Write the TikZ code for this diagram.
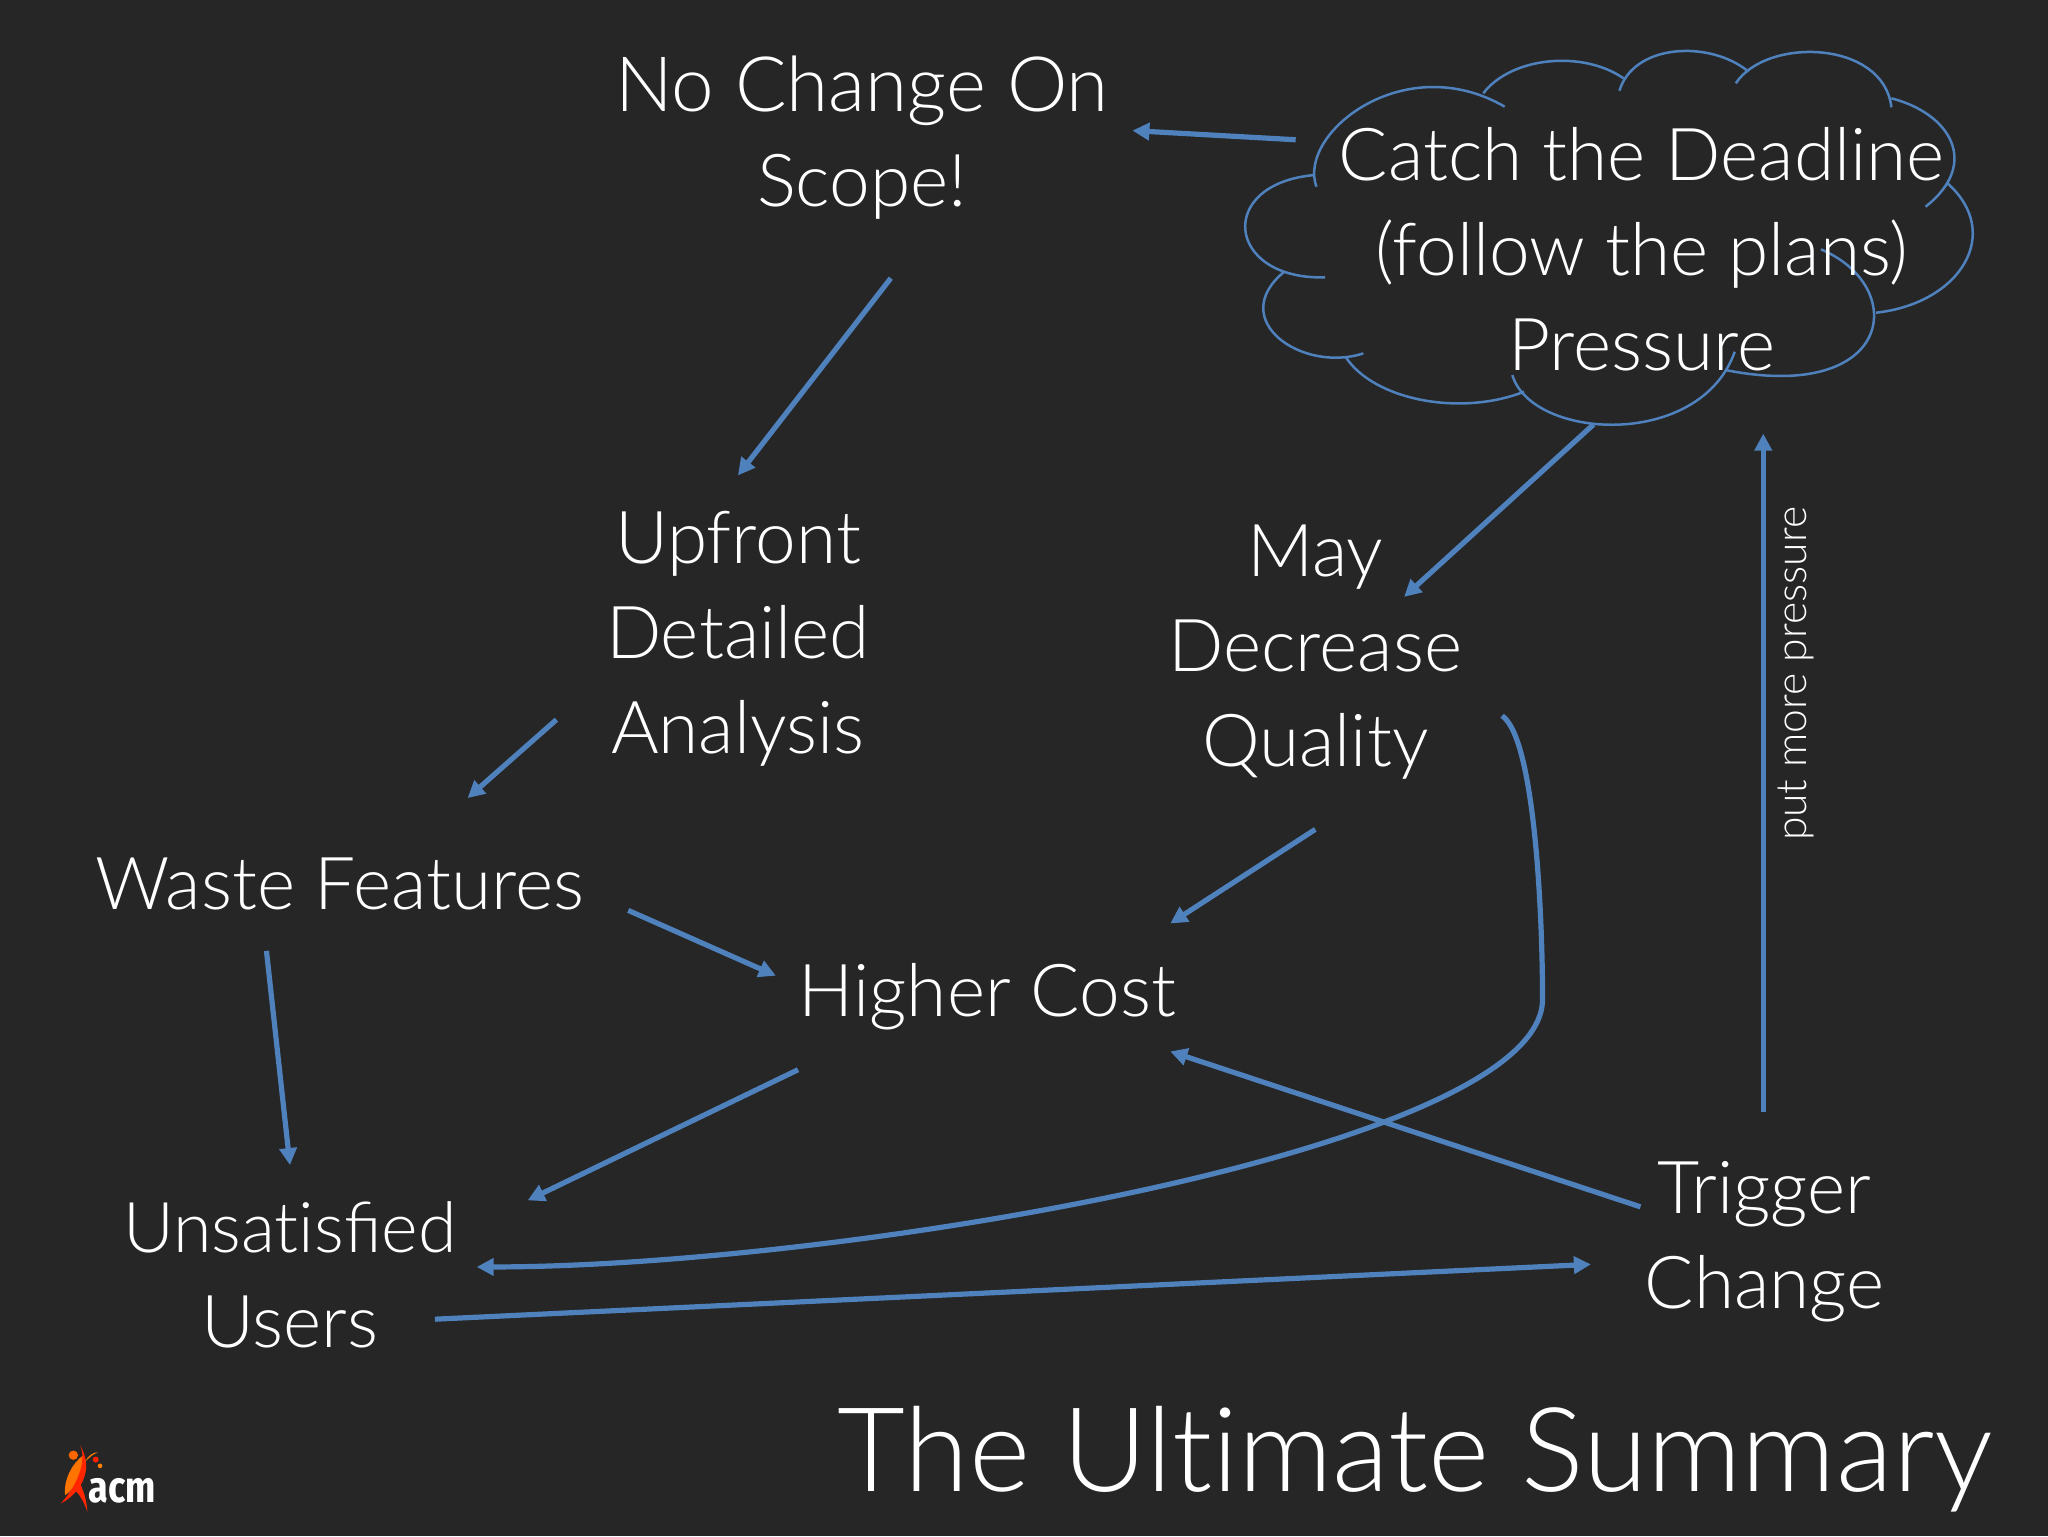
\documentclass[tikz,border=0pt]{standalone}
\usepackage{fontspec}
\usetikzlibrary{arrows.meta}
\newfontfamily\lightfont{Lato Light}
\newfontfamily\logofont{Fira Sans Condensed}[FakeStretch=0.9]
\setmainfont{Lato}
\definecolor{bgc}{HTML}{262627}
\definecolor{linec}{HTML}{4F81BD}
\definecolor{textc}{HTML}{FFFFFF}
\tikzset{
  label text/.style={text=textc,font=\lightfont\fontsize{36.5}{47.5}\selectfont,align=center,inner sep=0pt},
  conn/.style={draw=linec,line width=2.6pt,-{Triangle[length=8.5pt,width=8.5pt]}},
  cloudline/.style={draw=linec,line width=1.25pt},
}
\begin{document}
\begin{tikzpicture}[x=0.653061pt,y=-0.653061pt]
\useasboundingbox (0,0) rectangle (1568,1176);
\fill[bgc] (0,0) rectangle (1568,1176);

% cloud
\begin{scope}[shift={(918.8,15.3)},x=0.2551pt,y=-0.1667pt]
\draw[cloudline] (228,500) .. controls (190,340) and (400,85) .. (597,260);
\draw[cloudline] (555,220) .. controls (610,110) and (750,90) .. (830,175);
\draw[cloudline] (822,212) .. controls (850,70) and (1000,60) .. (1075,155);
\draw[cloudline] (1050,190) .. controls (1110,50) and (1340,60) .. (1355,262);
\draw[cloudline] (1355,235) .. controls (1470,280) and (1530,430) .. (1422,560);
\draw[cloudline] (1465,490) .. controls (1575,640) and (1490,850) .. (1325,878);
\draw[cloudline] (1217,688) .. controls (1390,800) and (1360,1150) .. (1030,1050);
\draw[cloudline] (612,1065) .. controls (650,1260) and (980,1290) .. (1048,995);
\draw[cloudline] (285,1010) .. controls (340,1140) and (510,1190) .. (635,1115);
\draw[cloudline] (320,1000) .. controls (200,1060) and (50,900) .. (165,755);
\draw[cloudline] (245,772) .. controls (50,780) and (30,490) .. (225,465);
\end{scope}

% labels
\node[label text] (nochange) at (660,105) {{\fontsize{38.2}{47.5}\selectfont No Change On}\\Scope!};
\node[label text] (catch) at (1257,191) {Catch the Deadline\\(follow the plans)\\Pressure};
\node[label text] (upfront) at (565,489) {Upfront\\Detailed\\Analysis};
\node[label text] (may) at (1007,499) {May\\Decrease\\Quality};
\node[label text] (waste) at (260,677) {Waste Features};
\node[label text] (cost) at (756,763) {Higher Cost};
\node[label text] (users) at (222,976) {{\fontsize{35}{47.5}\selectfont Unsat\kern0pt isfied}\\Users};
\node[label text] (trigger) at (1351,951) {Trigger\\Change};
\node[text=textc,font=\lightfont\fontsize{58.6}{70}\selectfont,inner sep=0pt,anchor=base east] (title) at (1526,1142) {The Ult\kern0pt imate Summary};
\node[text=textc,font=\lightfont\fontsize{21.3}{24}\selectfont,inner sep=0pt,rotate=90] (pressure) at (1375,516) {put more pressure};

% connector ends
\coordinate (c1) at (992,107); \coordinate (c2) at (867,100);
\coordinate (c3) at (682,213); \coordinate (c4) at (565,364);
\coordinate (c5) at (426,551); \coordinate (c6) at (358,611);
\coordinate (c7) at (481,697); \coordinate (c8) at (594,747);
\coordinate (c9) at (204,728); \coordinate (c10) at (222,892);
\coordinate (c11) at (611,819); \coordinate (c12) at (404,919);
\coordinate (c13) at (1220,325); \coordinate (c14) at (1075,457);
\coordinate (c15) at (1007,635); \coordinate (c16) at (896,707);
\coordinate (c17) at (1150,548); \coordinate (c18) at (365,970);
\coordinate (c19) at (1256,924); \coordinate (c20) at (896,805);
\coordinate (c21) at (333,1010); \coordinate (c22) at (1218,968);
\coordinate (c23) at (1350,851); \coordinate (c24) at (1350,332);

\draw[conn] (c1) -- (c2);
\draw[conn] (c3) -- (c4);
\draw[conn] (c5) -- (c6);
\draw[conn] (c7) -- (c8);
\draw[conn] (c9) -- (c10);
\draw[conn] (c11) -- (c12);
\draw[conn] (c13) -- (c14);
\draw[conn] (c15) -- (c16);
\draw[conn] (c17) .. controls (1175,565) and (1181,700) .. (1181,765) .. controls (1181,880) and (640,970) .. (c18);
\draw[conn] (c19) -- (c20);
\draw[conn] (c21) -- (c22);
\draw[conn] (c23) -- (c24);

% logo
\begin{scope}[shift={(23,1072)},x=0.1667pt,y=-0.1667pt]
\fill[orange!90!red] (160,165) .. controls (125,190) and (100,240) .. (105,285) .. controls (130,270) and (165,220) .. (160,165) -- cycle;
\fill[red!70!orange] (150,135) .. controls (175,190) and (130,270) .. (92,310) .. controls (150,280) and (195,210) .. (150,135) -- cycle;
\fill[red!70!orange] (135,270) .. controls (155,290) and (165,315) .. (172,335) .. controls (170,300) and (160,270) .. (150,250) -- cycle;
\fill[orange] (165,185) .. controls (175,165) and (190,155) .. (205,157) .. controls (190,160) and (180,170) .. (165,185) -- cycle;
\fill[orange!80!red] (130,165) circle[radius=14];
\fill[red!75!orange] (197,178) circle[radius=9];
\fill[orange] (210,197) circle[radius=7];
\node[text=white,font=\logofont\bfseries\fontsize{22}{22}\selectfont,inner sep=0pt,anchor=base] (acm) at (277,308) {acm};
\end{scope}
\end{tikzpicture}
\end{document}
